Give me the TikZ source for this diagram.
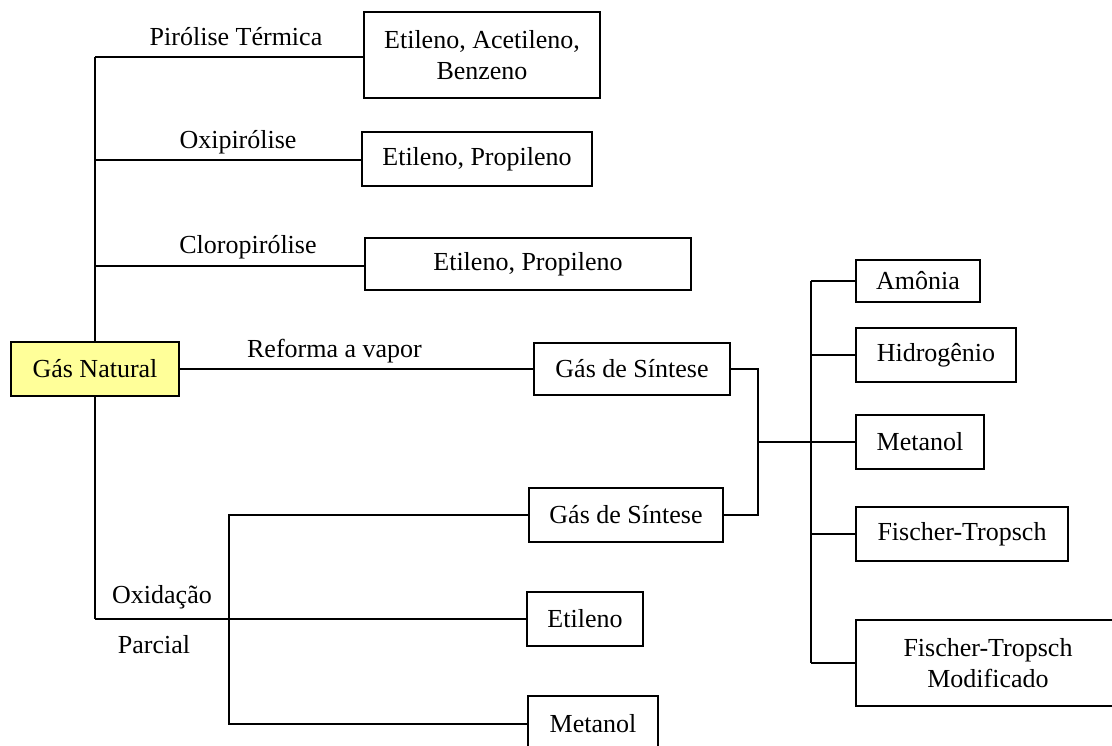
\documentclass[tikz,border=0pt]{standalone}
\usepackage{fontspec}
\setmainfont{Liberation Serif}
\definecolor{natgas}{RGB}{255,255,153}
\begin{document}
\begin{tikzpicture}[x=1pt,y=-1pt,
  every node/.style={font=\fontsize{26}{31}\selectfont},
  box/.style={draw, line width=1.8pt, inner sep=0pt, align=center},
  lbl/.style={inner sep=0pt, anchor=base},
  wire/.style={line width=1.8pt}]
\useasboundingbox (0,0) rectangle (1112,745);

% main feed and its products
\node[box, fill=natgas, minimum width=168, minimum height=54] (gn) at (95,369) {Gás Natural};
\node[box, minimum width=236, minimum height=86] (b1) at (482,55) {Etileno, Acetileno,\\Benzeno};
\node[box, minimum width=230, minimum height=54] (b2) at (477,159) {Etileno, Propileno};
\node[box, minimum width=326, minimum height=52] (b3) at (528,264) {Etileno, Propileno};
\node[box, minimum width=196, minimum height=52] (gs1) at (632,369) {Gás de Síntese};
\node[box, minimum width=194, minimum height=54] (gs2) at (626,515) {Gás de Síntese};
\node[box, minimum width=116, minimum height=54] (et) at (585,619) {Etileno};
\node[box, minimum width=130, minimum height=56] (me2) at (593,724) {Metanol};

% synthesis gas products
\node[box, minimum width=124, minimum height=42] (am) at (918,281) {Amônia};
\node[box, minimum width=160, minimum height=54] (hi) at (936,355) {Hidrogênio};
\node[box, minimum width=128, minimum height=54] (me) at (920,442) {Metanol};
\node[box, minimum width=212, minimum height=54] (ft) at (962,534) {Fischer-Tropsch};
\node[box, minimum width=264, minimum height=86] (ftm) at (988,663) {Fischer-Tropsch\\Modificado};

% process labels
\node[lbl] (l1) at (236,45) {Pirólise Térmica};
\node[lbl] (l2) at (238,148) {Oxipirólise};
\node[lbl] (l3) at (248,253) {Cloropirólise};
\node[lbl] (l4) at (334.5,357) {Reforma a vapor};
\node[lbl] (l5) at (162,603) {Oxidação};
\node[lbl] (l6) at (154,653) {Parcial};

% junction points
\coordinate (j1) at (95,57);
\coordinate (j2) at (95,160);
\coordinate (j3) at (95,266);
\coordinate (j4) at (95,619);
\coordinate (k1) at (229,515);
\coordinate (k2) at (229,724);
\coordinate (m1) at (758,369);
\coordinate (m2) at (758,515);
\coordinate (m3) at (758,442);
\coordinate (n1) at (811,281);
\coordinate (n2) at (811,663);

% left trunk
\draw[wire] (j1) -- (gn.north);
\draw[wire] (gn.south) -- (j4);
\draw[wire] (j1) -- (j1 -| b1.west);
\draw[wire] (j2) -- (j2 -| b2.west);
\draw[wire] (j3) -- (j3 -| b3.west);
\draw[wire] (gn.east) -- (gs1.west);
\draw[wire] (j4) -- (et.west);

% partial oxidation branch
\draw[wire] (gs2.west) -- (k1) -- (k2) -- (me2.west);

% synthesis gas merge
\draw[wire] (gs1.east) -- (m1) -- (m2) -- (gs2.east);
\draw[wire] (m3) -- (me.west);

% product bus
\draw[wire] (n1) -- (n2);
\draw[wire] (n1) -- (am.west);
\draw[wire] (n1 |- hi.west) -- (hi.west);
\draw[wire] (n1 |- ft.west) -- (ft.west);
\draw[wire] (n2) -- (ftm.west);
\end{tikzpicture}
\end{document}
